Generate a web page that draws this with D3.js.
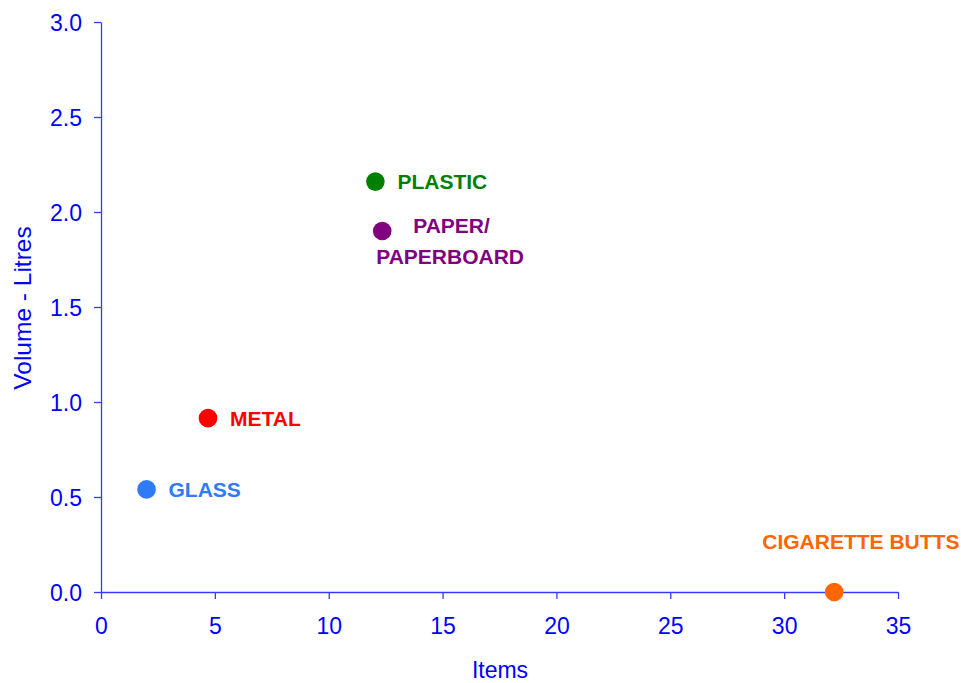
<!DOCTYPE html>
<html><head><meta charset="utf-8">
<script src="https://cdn.jsdelivr.net/npm/d3@7"></script>
<style>body{margin:0;background:#fff}svg{display:block}</style>
</head><body>
<svg id="chart" width="961" height="683"></svg>
<script>
const categories = ["GLASS", "METAL", "PLASTIC", "PAPER/PAPERBOARD", "CIGARETTE BUTTS"];
const itemsValues = [2.0, 4.7, 12.05, 12.35, 32.2];
const volumeValues = [0.54, 0.915, 2.16, 1.90, 0.0];
const pointColors = ["#2f7bf5", "#ff0000", "#008000", "#800080", "#ff6600"];
const xTicks = [0, 5, 10, 15, 20, 25, 30, 35];
const yTicks = [0, 0.5, 1.0, 1.5, 2.0, 2.5, 3.0];
const labelLines = [["GLASS"], ["METAL"], ["PLASTIC"], ["PAPER/", "PAPERBOARD"], ["CIGARETTE BUTTS"]];
// label offsets relative to point (px), per category
const labelOffsets = [[22, 0, "start"], [22, 0, "start"], [22, 0, "start"], [31, -6, "start"], [-72, -51, "start"]];

const svg = d3.select("#chart");
const x = d3.scaleLinear().domain([0, 35]).range([101, 898]);
const y = d3.scaleLinear().domain([0, 3]).range([592, 22]);
const axisColor = "#3a3aff", textColor = "#0000ff";
const font = "Liberation Sans, Arial, Helvetica, sans-serif";

const xAxis = svg.append("g").attr("transform", "translate(0,592)")
  .call(d3.axisBottom(x).tickValues(xTicks).tickFormat(d3.format("d")).tickSizeInner(7).tickSizeOuter(0).tickPadding(19));
const yAxis = svg.append("g").attr("transform", "translate(101,0)")
  .call(d3.axisLeft(y).tickValues(yTicks).tickFormat(d3.format(".1f")).tickSizeInner(7).tickSizeOuter(0).tickPadding(12));
[xAxis, yAxis].forEach(g => {
  g.selectAll("path,line").attr("stroke", axisColor).attr("stroke-width", 1.3);
  g.selectAll("text").attr("fill", textColor).style("font-family", font).style("font-size", "23px");
});
yAxis.selectAll("text").attr("dy", "0.36em");

svg.append("text").attr("x", 500).attr("y", 678).attr("text-anchor", "middle")
  .attr("fill", textColor).style("font-family", font).style("font-size", "23px").text("Items");
svg.append("text").attr("transform", "translate(31,308) rotate(-90)").attr("text-anchor", "middle")
  .attr("fill", textColor).style("font-family", font).style("font-size", "24.5px").text("Volume - Litres");

const data = categories.map((c, i) => ({c, xv: itemsValues[i], yv: volumeValues[i], col: pointColors[i], lines: labelLines[i], off: labelOffsets[i]}));

svg.append("g").selectAll("circle").data(data).join("circle")
  .attr("cx", d => x(d.xv)).attr("cy", d => y(d.yv)).attr("r", 9.3).attr("fill", d => d.col);

const lab = svg.append("g").selectAll("text").data(data).join("text")
  .attr("fill", d => d.col).style("font-family", font).style("font-size", "21px").style("font-weight", "bold")
  .attr("x", d => x(d.xv) + d.off[0]).attr("y", d => y(d.yv) + d.off[1]);
lab.each(function(d) {
  const t = d3.select(this);
  d.lines.forEach((l, j) => {
    t.append("tspan").attr("x", j === 0 ? x(d.xv) + d.off[0] : x(d.xv) - 6).attr("dy", j === 0 ? "0.36em" : "31px").text(l);
  });
});
</script>
</body></html>
